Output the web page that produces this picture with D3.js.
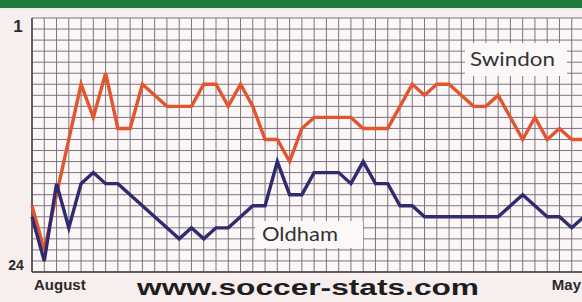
<!DOCTYPE html>
<html>
<head>
<meta charset="utf-8">
<script src="https://cdn.jsdelivr.net/npm/d3@7"></script>
<style>
body { margin: 0; background: #f7eeee; }
svg { display: block; }
.grid line { stroke: #7d7280; stroke-width: 1; }
.line { fill: none; stroke-width: 3.4; stroke-linejoin: miter; }
.lbl { font-family: "Liberation Sans Narrow", "Liberation Sans", sans-serif; font-weight: bold; fill: #2a2a2a; }
.tag { font-family: "Lato", "Open Sans", sans-serif; fill: #333; }
</style>
</head>
<body>
<svg width="582" height="302"></svg>
<script>
// league positions per game
var swindon = [18, 22, 17, 12, 7, 10, 6, 11, 11, 7, 8, 9, 9, 9, 7, 7, 9, 7, 9, 12,
  12, 14, 11, 10, 10, 10, 10, 11, 11, 11, 9, 7, 8, 7, 7, 8, 9, 9, 8, 10,
  12, 10, 12, 11, 12, 12];
var oldham = [19, 23, 16, 20, 16, 15, 16, 16, 17, 18, 19, 20, 21, 20, 21, 20, 20, 19, 18, 18,
  14, 17, 17, 15, 15, 15, 16, 14, 16, 16, 18, 18, 19, 19, 19, 19, 19, 19, 19, 18,
  17, 18, 19, 19, 20, 19];
var positions = [1, 24];
var monthLabels = ["August", "May"];
var monthGames = [1, 46];

var svg = d3.select("svg");
var games = swindon.map(function (d, i) { return i + 1; });

var x = d3.scaleLinear().domain([1, 46]).range([32, 584]);
var y = d3.scaleLinear().domain([1, 24]).range([18, 272]);

// header band
svg.append("rect").attr("x", 0).attr("y", 0).attr("width", 582).attr("height", 8).attr("fill", "#1f7a3c");
svg.append("rect").attr("x", 0).attr("y", 8).attr("width", 582).attr("height", 2).attr("fill", "#e6f0ea");

// plot paper
svg.append("rect")
  .attr("x", x(1)).attr("y", y(1))
  .attr("width", 582 - x(1)).attr("height", y(24) - y(1))
  .attr("fill", "#fcf7f7");

var grid = svg.append("g").attr("class", "grid");
grid.selectAll(".h")
  .data(d3.range(1, 25))
  .enter().append("line")
  .attr("x1", x(1)).attr("x2", 582)
  .attr("y1", function (d) { return y(d); })
  .attr("y2", function (d) { return y(d); });
grid.selectAll(".v")
  .data(games)
  .enter().append("line")
  .attr("x1", function (d) { return x(d); })
  .attr("x2", function (d) { return x(d); })
  .attr("y1", y(1)).attr("y2", y(24));

// outer frame a bit heavier
svg.append("line").attr("x1", x(1)).attr("x2", 582).attr("y1", y(24)).attr("y2", y(24))
  .attr("stroke", "#4a4048").attr("stroke-width", 1.5);
svg.append("line").attr("x1", x(1)).attr("x2", x(1)).attr("y1", y(1)).attr("y2", y(24))
  .attr("stroke", "#4a4048").attr("stroke-width", 1.5);

var line = d3.line()
  .x(function (d, i) { return x(games[i]); })
  .y(function (d) { return y(d); });

svg.append("path").datum(swindon).attr("class", "line")
  .attr("stroke", "#e2552f").attr("d", line);
svg.append("path").datum(oldham).attr("class", "line")
  .attr("stroke", "#2f2b6e").attr("d", line);

// series tags
svg.append("rect").attr("x", 465).attr("y", 43).attr("width", 102).attr("height", 33).attr("fill", "#fbf8f8");
svg.append("text").attr("class", "tag").attr("x", 470).attr("y", 66)
  .attr("font-size", 20).attr("textLength", 85).attr("lengthAdjust", "spacingAndGlyphs").text("Swindon");
svg.append("rect").attr("x", 255).attr("y", 221).attr("width", 108).attr("height", 27).attr("fill", "#fbf8f8");
svg.append("text").attr("class", "tag").attr("x", 262).attr("y", 241)
  .attr("font-size", 20).attr("textLength", 76).attr("lengthAdjust", "spacingAndGlyphs").text("Oldham");

// axis labels
svg.selectAll(".ylab")
  .data(positions)
  .enter().append("text")
  .attr("class", "lbl")
  .attr("x", function (d) { return d === 1 ? 18 : 16; })
  .attr("y", function (d) { return d === 1 ? y(d) + 14 : y(d) - 2; })
  .attr("text-anchor", "middle")
  .attr("font-size", function (d) { return d === 1 ? 17 : 14; })
  .text(function (d) { return d; });

svg.selectAll(".xlab")
  .data(monthLabels)
  .enter().append("text")
  .attr("class", "lbl")
  .attr("x", function (d, i) { return i === 0 ? x(monthGames[i]) + 2 : 581; })
  .attr("y", 290)
  .attr("text-anchor", function (d, i) { return i === 0 ? "start" : "end"; })
  .attr("font-size", 15)
  .text(function (d) { return d; });

svg.append("text")
  .attr("x", 137).attr("y", 295)
  .attr("font-family", "Liberation Sans, Arial, sans-serif")
  .attr("font-weight", "bold").attr("font-size", 22).attr("fill", "#1e1e1e")
  .attr("textLength", 342).attr("lengthAdjust", "spacingAndGlyphs")
  .text("www.soccer-stats.com");
</script>
</body>
</html>
